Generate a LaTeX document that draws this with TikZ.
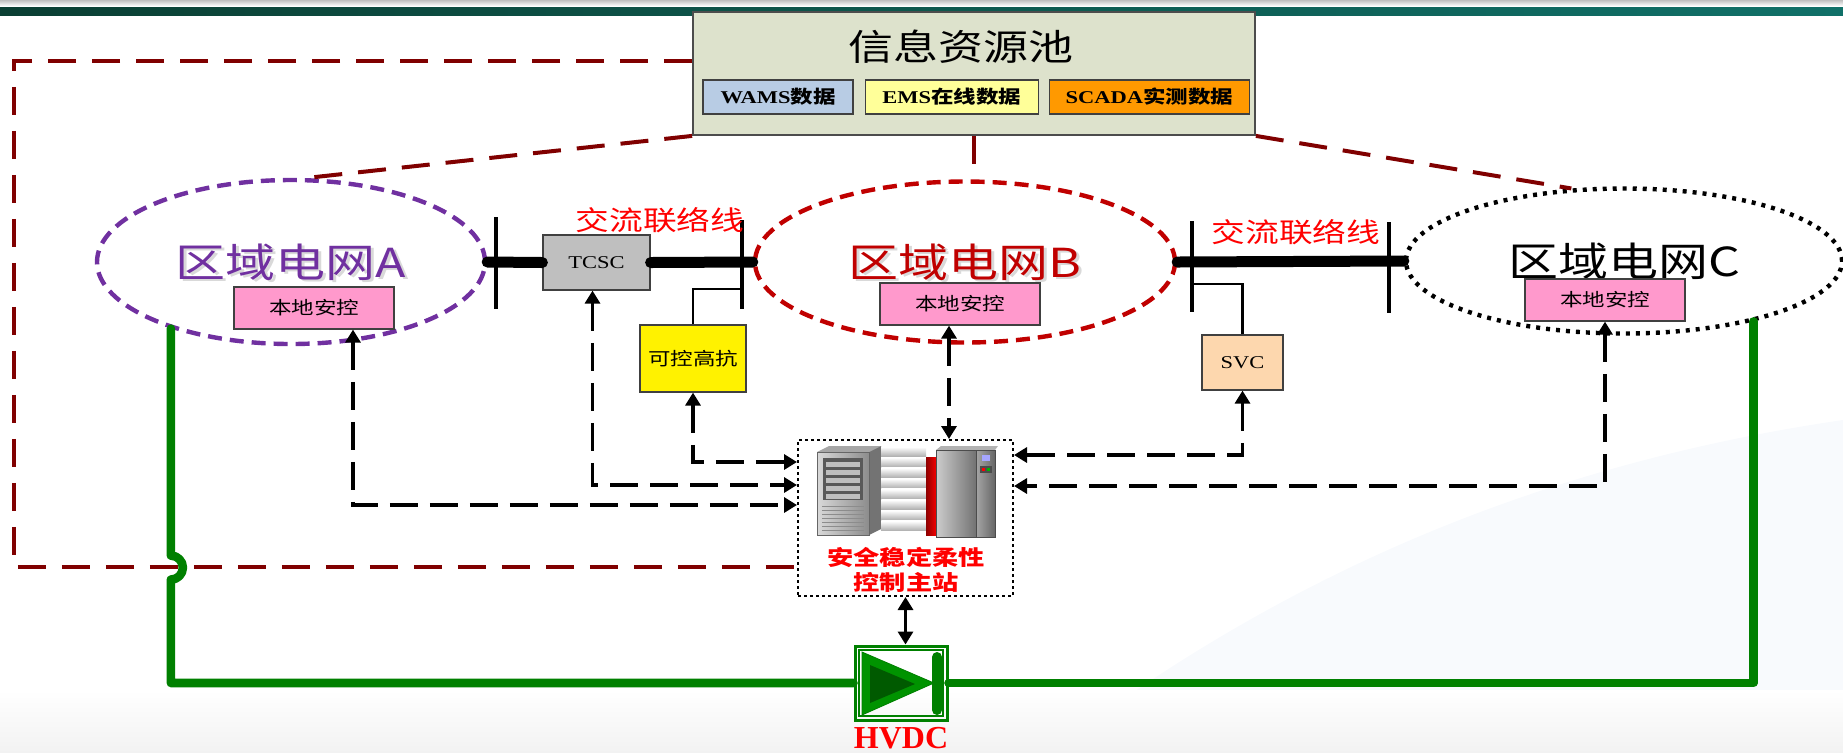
\documentclass[tikz,border=0pt]{standalone}
\usepackage{fontspec}
\usepackage{tikz}
\usetikzlibrary{shapes.geometric,arrows.meta,positioning,calc}
\newfontfamily\cjk[FakeStretch=1.25]{Noto Sans CJK SC}
\newfontfamily\serifw[FakeStretch=1.25]{Liberation Serif}
\newfontfamily\serifn{Liberation Serif}

\definecolor{poolbg}{HTML}{DDE2CC}
\definecolor{wamsbg}{HTML}{B8CCE4}
\definecolor{emsbg}{HTML}{FFFF99}
\definecolor{scadabg}{HTML}{FF9900}
\definecolor{gridpurple}{HTML}{7030A0}
\definecolor{gridred}{HTML}{C00000}
\definecolor{linkred}{HTML}{800000}
\definecolor{dcgreen}{HTML}{008000}
\definecolor{dcdark}{HTML}{005A00}
\definecolor{localbg}{HTML}{FF99CC}
\definecolor{svcbg}{HTML}{FDD7AE}
\definecolor{bandleft}{HTML}{0B3F33}
\definecolor{bandright}{HTML}{107068}
\definecolor{haze}{HTML}{F8FAFD}

\tikzset{
  eqbox/.style   ={rectangle, draw=black!75, line width=0.6pt, inner sep=0pt, align=center},
  srcbox/.style  ={eqbox, minimum height=17pt, font=\bfseries\fontsize{9}{10}\selectfont},
  localbox/.style={eqbox, fill=localbg, minimum width=80pt, minimum height=21pt,
                   font=\cjk\fontsize{9}{10}\selectfont},
  devbox/.style  ={eqbox, minimum height=27.5pt, font=\serifw\fontsize{9}{10}\selectfont},
  gridzone/.style={ellipse, line width=2.2pt, inner sep=0pt,
                   font=\cjk\fontsize{20}{22}\selectfont},
  busbar/.style  ={rectangle, fill=black, minimum width=1.8pt, inner sep=0pt},
  tieline/.style ={line width=5.5pt, line cap=round},
  tap/.style     ={line width=1.3pt},
  tielabel/.style={text=red, font=\cjk\fontsize{13.5}{15}\selectfont},
  infolink/.style={draw=linkred, line width=2pt, dash pattern=on 14pt off 8pt},
  ctrlflow/.style={>={Triangle[length=6.5pt,width=7.5pt]}, <->, line width=1.6pt,
                   dash pattern=on 14pt off 6pt},
  dcline/.style  ={draw=dcgreen, line width=4.3pt, line cap=round, line join=round}
}

\begin{document}
\begin{tikzpicture}[x=0.5pt, y=-0.5pt, node distance=5pt]
  \useasboundingbox (0,0) rectangle (1843,752);

  % page background
  \shade[top color=black!25, bottom color=white] (0,0) rectangle (1843,6);
  \shade[left color=bandleft, right color=bandright] (0,7) rectangle (1843,15);
  \fill[haze] (1050,752) .. controls (1250,600) and (1500,470) .. (1843,420) -- (1843,752) -- cycle;
  \shade[top color=white, bottom color=black!5] (0,690) rectangle (1843,752);

  % information pool
  \node[eqbox, fill=poolbg, draw=black!70, line width=0.9pt,
        minimum width=281pt, minimum height=61.5pt] (pool) at (974,73.5) {};
  \node[font=\cjk\fontsize{18}{20}\selectfont] (pooltitle) at (961,47) {信息资源池};
  \node[srcbox, fill=wamsbg, minimum width=75pt] (wams) at (778,97)
       {{\serifw WAMS}{\cjk 数据}};
  \node[srcbox, fill=emsbg, minimum width=86.5pt, right=5.5pt of wams] (ems)
       {{\serifw EMS}{\cjk 在线数据}};
  \node[srcbox, fill=scadabg, minimum width=100pt, right=of ems] (scada)
       {{\serifw SCADA}{\cjk 实测数据}};

  % regional grids
  \node[gridzone, text=black!15] (shadowA) at (293.5,264) {区域电网A};
  \node[gridzone, draw=gridpurple, text=gridpurple, dash pattern=on 7pt off 4pt,
        minimum width=194pt, minimum height=82pt] (gridA) at (291,262) {区域电网A};
  \node[gridzone, text=black!15] (shadowB) at (967.5,264) {区域电网B};
  \node[gridzone, draw=gridred, text=gridred, dash pattern=on 7pt off 4pt,
        minimum width=210pt, minimum height=80.5pt] (gridB) at (965,262) {区域电网B};
  \node[gridzone, draw=black, dash pattern=on 2pt off 3pt,
        minimum width=218pt, minimum height=72.5pt] (gridC) at (1624,261) {区域电网C};

  \node[localbox] (localA) at (314,308) {本地安控};
  \node[localbox] (localB) at (960,304) {本地安控};
  \node[localbox] (localC) at (1605,300) {本地安控};

  % links from the information pool
  \draw[infolink] (pool.south west) -- (gridA.80);
  \draw[infolink] (pool.south) -- (pool.south |- gridB.north);
  \draw[infolink] (pool.south east) -- (gridC.126);

  % AC tie lines
  \node[busbar, minimum height=46pt]   (bus1) at (496,263) {};
  \node[busbar, minimum height=44.5pt] (bus2) at (742,264.5) {};
  \node[busbar, minimum height=45.5pt] (bus3) at (1192,266) {};
  \node[busbar, minimum height=45.5pt] (bus4) at (1389,267) {};
  \node[devbox, fill=black!25, minimum width=53.5pt] (tcsc) at (596.5,262.5) {TCSC};
  \draw[tieline] (gridA.east) -- (tcsc.west) (tcsc.east) -- (gridB.west);
  \draw[tieline] (gridB.east) -- (gridC.west);
  \node[tielabel] (tieAB) at (660,220) {交流联络线};
  \node[tielabel] (tieBC) at (1296,232) {交流联络线};

  \node[devbox, fill=yellow, minimum width=53pt, minimum height=33.5pt,
        font=\cjk\fontsize{9}{10}\selectfont] (reactor) at (693,358.5) {可控高抗};
  \node[devbox, fill=svcbg, minimum width=40.5pt] (svc) at (1242.5,362.5) {SVC};
  \draw[tap] (reactor.north) |- ([yshift=-12.25pt]bus2.center);
  \draw[tap] (svc.north) |- ([yshift=-9pt]bus3.center);

  % control master station
  \node[eqbox, draw=black, line width=1pt, dash pattern=on 1.5pt off 1.5pt,
        minimum width=107.5pt, minimum height=78pt] (ctrl) at (905.5,518) {};
  % tower server
  \fill[black!35] (817,452) -- (829,446) -- (881,446) -- (869,452) -- cycle;
  \shade[left color=black!15, right color=black!45] (817,452) rectangle (869,535);
  \fill[black!55] (869,452) -- (881,446) -- (881,529) -- (869,535) -- cycle;
  \fill[black!65] (823,458) rectangle (863,500);
  \foreach \y in {462,470,478,486,494}
    \fill[black!25] (826,\y) rectangle (860,\y+5);
  \foreach \y in {506,510,...,530}
    \draw[black!45, line width=0.4pt] (822,\y) -- (864,\y);
  \draw[black!60, line width=0.4pt] (817,452) rectangle (869,535);
  % blade rack
  \foreach \i in {0,...,7}
    \shade[top color=white, bottom color=black!30] (881,447+\i*10.6) rectangle (926,456+\i*10.6);
  % cabinet
  \shade[left color=red!55!black, right color=red] (926,457) rectangle (937,535);
  \fill[black!30] (936,450) -- (941,446) -- (998,446) -- (995,450) -- cycle;
  \shade[left color=black!20, right color=black!55] (936,450) rectangle (976,537);
  \shade[left color=black!35, right color=black!60] (976,450) rectangle (995,537);
  \draw[black!70, line width=0.4pt] (936,450) rectangle (995,537) (976,450) -- (976,537);
  \fill[blue!35!white] (982,455) rectangle (990,461);
  \fill[black!70] (980,466) rectangle (992,473);
  \fill[red] (982,468) rectangle (985,471);
  \fill[green!70!black] (987,468) rectangle (990,471);
  \node[text=red, align=center, font=\cjk\bfseries\fontsize{10.5}{12.5}\selectfont]
       (ctrltext) at (906,570) {安全稳定柔性\\控制主站};

  % outer data loop back to the station
  \coordinate (loopcorner) at (14,567);
  \draw[infolink] ([yshift=6.25pt]pool.west) -| (loopcorner) -- (ctrl.west |- loopcorner);

  % control channels
  \draw[ctrlflow] ([xshift=19.5pt]localA.south) |- ([yshift=6.5pt]ctrl.west);
  \draw[ctrlflow] ([xshift=-2pt]tcsc.south) |- ([yshift=16.5pt]ctrl.west);
  \draw[ctrlflow] (reactor.south) |- ([yshift=28pt]ctrl.west);
  \draw[ctrlflow] ([xshift=-5.5pt]localB.south) -- ([xshift=21.75pt]ctrl.north);
  \draw[ctrlflow] (svc.south) |- ([yshift=31.5pt]ctrl.east);
  \draw[ctrlflow] (localC.south) |- ([yshift=16pt]ctrl.east);

  % HVDC link
  \node[eqbox, draw=dcgreen, line width=1.5pt, minimum width=46pt, minimum height=37pt]
       (hvdc) at (901,683) {};
  \draw[dcline] (gridA.209) -- ++(0,227) arc[start angle=-90, end angle=90, radius=12]
        |- (hvdc.west);
  \draw[dcline] (hvdc.east) -| (gridC.335);
  \begin{scope}[shift={(hvdc.center)}]
    \draw[dcgreen, line width=0.6pt] (-42,-33) rectangle (42,33);
    \fill[dcgreen!85!green, draw=dcgreen] (-39,-31) -- (-39,32) -- (33,0) -- cycle;
    \fill[dcdark] (-31,-18) -- (-31,20) -- (14,1) -- cycle;
    \fill[dcgreen, rounded corners=2.5pt] (31,-31) rectangle (41,32);
  \end{scope}
  \draw[ctrlflow, solid] (ctrl.south) -- (ctrl.south |- hvdc.north);
  \node[text=red, anchor=base, inner sep=0pt, font=\serifn\bfseries\fontsize{16}{16}\selectfont]
       (hvdctext) at (901,748) {HVDC};
\end{tikzpicture}
\end{document}
